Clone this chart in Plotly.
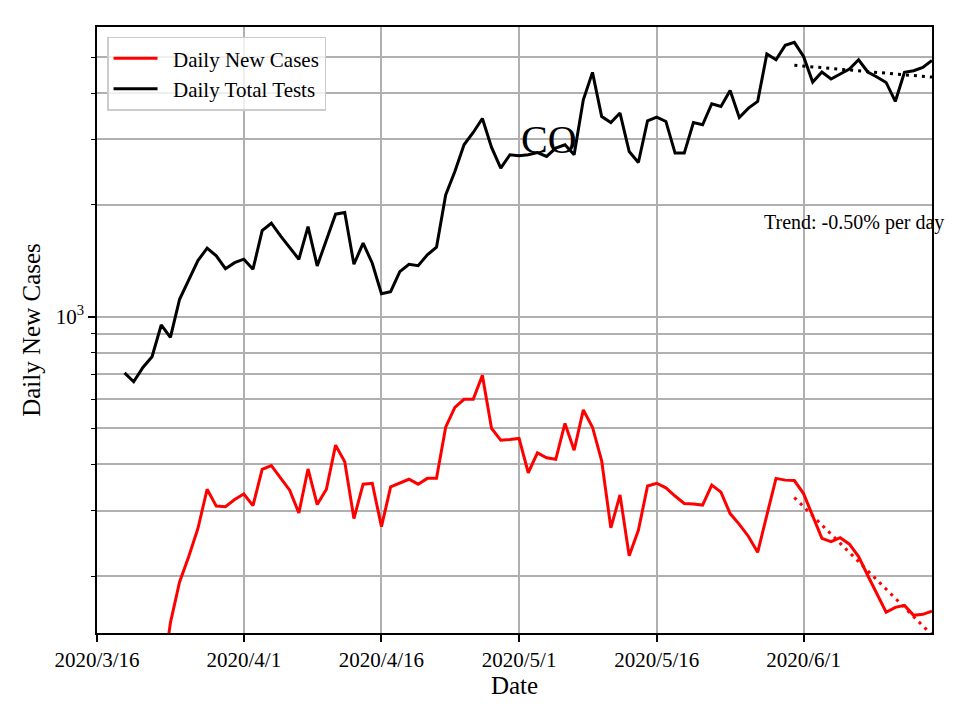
import pandas as pd
import plotly.graph_objects as go

dates = pd.date_range("2020-03-19", "2020-06-15", freq="D")

daily_tests = [
    706, 668, 730, 780, 950, 880, 1114, 1256, 1416, 1529, 1458, 1347, 1398,
    1428, 1342, 1705, 1785, 1650, 1535, 1428, 1748, 1370, 1609, 1888, 1907,
    1384, 1577, 1393, 1153, 1168, 1322, 1384, 1372, 1467, 1539, 2128, 2460,
    2903, 3133, 3418, 2855, 2512, 2729,
    2712, 2729, 2767, 2700, 2844, 2903, 2729, 3838, 4548, 3460, 3333, 3534,
    2784, 2601, 3369, 3447, 3355, 2757, 2757, 3333, 3286, 3744, 3681, 4067,
    3438, 3645, 3798, 5096, 4919, 5377, 5477,
    5021, 4283, 4559, 4364, 4502, 4643, 4919, 4559, 4418, 4272, 3798, 4548,
    4595, 4690, 4898,
]

daily_cases = [
    None, None, None, None, 100, 150, 193, 226, 269, 343, 309, 308, 322,
    333, 310, 388, 397, 367, 341, 296, 389, 312, 343, 451, 407,
    286, 354, 356, 272, 348, 357, 365, 354, 367, 367, 504, 570,
    599, 599, 695, 500, 465, 467,
    470, 380, 430, 417, 413, 516, 437, 561, 504, 409, 270, 331,
    227, 266, 350, 356, 346, 329, 314, 313, 311, 352, 337, 295,
    276, 256, 232, 292, 367, 363, 362,
    334, 289, 253, 248, 254, 244, 226, 201, 180, 160, 165, 167,
    157, 158, 161,
]

trend_dates = ["2020-05-31", "2020-06-15"]
cases_trend = [326, 139]
tests_trend = [4753, 4416]

x_tick_dates = ["2020-03-16", "2020-04-01", "2020-04-16", "2020-05-01", "2020-05-16", "2020-06-01"]
x_tick_labels = ["2020/3/16", "2020/4/1", "2020/4/16", "2020/5/1", "2020/5/16", "2020/6/1"]
y_minor_vals = [200, 300, 400, 500, 600, 700, 800, 900, 2000, 3000, 4000, 5000]

FONT = "Liberation Serif, Times New Roman, serif"
GRID = "#b0b0b0"

fig = go.Figure()
fig.add_trace(go.Scatter(x=dates, y=daily_cases, mode="lines", name="  Daily New Cases",
                         line=dict(color="#ff0000", width=3)))
fig.add_trace(go.Scatter(x=dates, y=daily_tests, mode="lines", name="  Daily Total Tests",
                         line=dict(color="#000000", width=3)))
fig.add_trace(go.Scatter(x=trend_dates, y=cases_trend, mode="lines", showlegend=False,
                         line=dict(color="#ff0000", width=3, dash="3px,5px")))
fig.add_trace(go.Scatter(x=trend_dates, y=tests_trend, mode="lines", showlegend=False,
                         line=dict(color="#000000", width=3, dash="3px,5px")))

# page body has an 8px default margin, so the figure is drawn 8px smaller and offset
fig.update_layout(
    width=952, height=712,
    margin=dict(l=89, r=28, t=19, b=87, autoexpand=False),
    paper_bgcolor="white", plot_bgcolor="white",
    font=dict(family=FONT, size=21, color="black"),
    showlegend=True,
    legend=dict(x=0.012, y=0.984, xanchor="left", yanchor="top",
                bgcolor="rgba(255,255,255,0.8)", bordercolor="#cccccc", borderwidth=1.5,
                font=dict(family=FONT, size=21), tracegroupgap=0, itemwidth=44),
    xaxis=dict(
        type="date", range=["2020-03-16", "2020-06-15"], automargin=False,
        tickmode="array", tickvals=x_tick_dates, ticktext=x_tick_labels,
        ticks="outside", ticklen=7, tickwidth=1.6, tickcolor="black",
        showline=True, linecolor="black", linewidth=1.6, mirror=True,
        showgrid=True, gridcolor=GRID, gridwidth=1.5,
        zeroline=False,
        title=dict(text="Date", standoff=2),
        tickfont=dict(family=FONT, size=21),
    ),
    yaxis=dict(
        type="log", range=[2.1483, 3.7800], automargin=False,
        tickmode="array", tickvals=[1000], ticktext=["10<sup>3</sup>"],
        ticks="outside", ticklen=7, tickwidth=1.6, tickcolor="black",
        showline=True, linecolor="black", linewidth=1.6, mirror=True,
        showgrid=True, gridcolor=GRID, gridwidth=1.5,
        minor=dict(tickmode="array", tickvals=y_minor_vals, ticks="outside", ticklen=4,
                   tickwidth=1.2, tickcolor="black", showgrid=True, gridcolor=GRID, gridwidth=1.5),
        zeroline=False,
        title=dict(text="Daily New Cases", standoff=8),
        tickfont=dict(family=FONT, size=21),
    ),
    annotations=[
        dict(text="CO", xref="paper", yref="paper", x=0.5413, y=0.8138,
             xanchor="center", yanchor="middle", showarrow=False,
             font=dict(family=FONT, size=40, color="black")),
        dict(text="Trend: -0.50% per day", xref="paper", yref="paper", x=0.797, y=0.678,
             xanchor="left", yanchor="middle", showarrow=False,
             font=dict(family=FONT, size=20, color="black")),
    ],
)

fig.write_html("out.html")
